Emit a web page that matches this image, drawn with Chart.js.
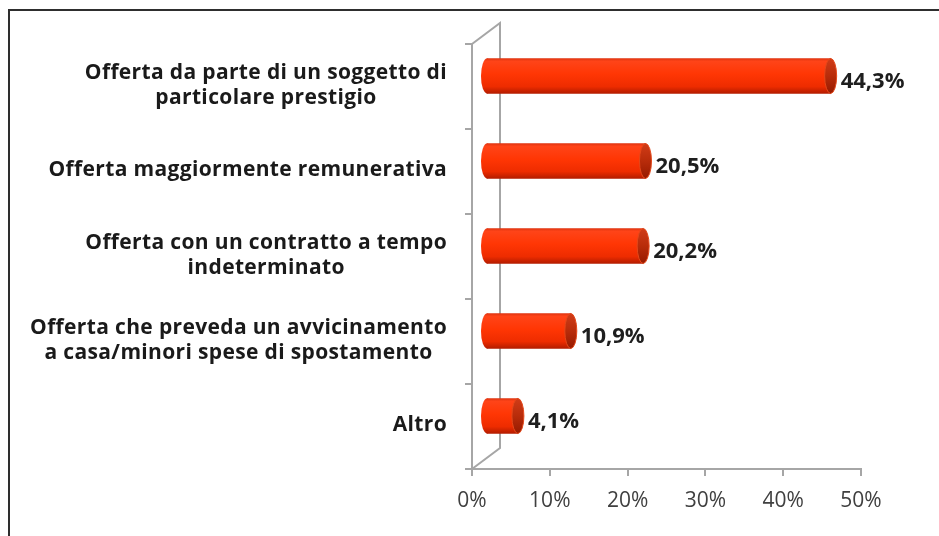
<!DOCTYPE html>
<html lang="it">
<head>
<meta charset="utf-8">
<title>Offerta</title>
<script src="https://cdn.jsdelivr.net/npm/chart.js@4/dist/chart.umd.min.js"></script>
<style>
  html, body { margin: 0; padding: 0; background: #fff; overflow: hidden; }
  #chart { display: block; }
</style>
</head>
<body>
<canvas id="chart" width="939" height="536"></canvas>
<script>
const categories = [
    ['Offerta da parte di un soggetto di', 'particolare prestigio'],
    ['Offerta maggiormente remunerativa'],
    ['Offerta con un contratto a tempo', 'indeterminato'],
    ['Offerta che preveda un avvicinamento', 'a casa/minori spese di spostamento'],
    ['Altro']
];
const percentages = [44.3, 20.5, 20.2, 10.9, 4.1];
const xTicks = [0, 10, 20, 30, 40, 50];

// 3D look: bars sit half way into the wall depth
const DEPTH_X = 28, DEPTH_Y = -21;
const BAR_H = 35, CAP_RX = 6;
const WALL = '#a6a6a6';

function barGradient(g, top, bottom) {
    const grad = g.createLinearGradient(0, top, 0, bottom);
    grad.addColorStop(0, '#e03410');
    grad.addColorStop(0.08, '#ff4418');
    grad.addColorStop(0.45, '#ff3604');
    grad.addColorStop(0.8, '#ee2c00');
    grad.addColorStop(1, '#b41c00');
    return grad;
}

const frame = {
    id: 'frame',
    beforeDraw(chart) {
        const g = chart.ctx;
        g.save();
        g.fillStyle = '#fff';
        g.fillRect(0, 0, chart.width, chart.height);
        g.strokeStyle = '#2e2e2e';
        g.lineWidth = 2;
        g.beginPath();
        g.moveTo(9, chart.height);
        g.lineTo(9, 10);
        g.lineTo(chart.width, 10);
        g.stroke();
        g.restore();
    },
    beforeDatasetsDraw(chart) {
        const g = chart.ctx;
        const a = chart.chartArea;
        g.save();
        g.strokeStyle = WALL;
        g.lineWidth = 2;
        g.beginPath();
        g.moveTo(a.left, a.top);
        g.lineTo(a.left + DEPTH_X, a.top + DEPTH_Y);
        g.lineTo(a.left + DEPTH_X, a.bottom + DEPTH_Y);
        g.lineTo(a.left, a.bottom);
        g.stroke();
        g.restore();
        g.save();
        g.translate(DEPTH_X / 2, DEPTH_Y / 2);
    },
    afterDatasetsDraw(chart) {
        const g = chart.ctx;
        const meta = chart.getDatasetMeta(0);
        meta.data.forEach((el, i) => {
            const ry = BAR_H / 2;
            g.fillStyle = barGradient(g, el.y - ry, el.y + ry);
            g.beginPath();
            g.ellipse(el.base, el.y, CAP_RX, ry, 0, 0, Math.PI * 2);
            g.fill();
            const cap = g.createLinearGradient(0, el.y - ry, 0, el.y + ry);
            cap.addColorStop(0, '#d03c18');
            cap.addColorStop(0.5, '#b82c0a');
            cap.addColorStop(1, '#961a00');
            g.fillStyle = cap;
            g.beginPath();
            g.ellipse(el.x, el.y, CAP_RX, ry, 0, 0, Math.PI * 2);
            g.fill();
            g.strokeStyle = '#e4481a';
            g.lineWidth = 1;
            g.stroke();

            g.fillStyle = '#1e1e1e';
            g.font = 'bold 22px "Open Sans"';
            g.textAlign = 'left';
            g.textBaseline = 'middle';
            const txt = percentages[i].toFixed(1).replace('.', ',') + '%';
            g.fillText(txt, el.x + CAP_RX + 4, el.y + 6);
        });
        g.restore();
    },
    afterDraw(chart) {
        const g = chart.ctx;
        const y = chart.scales.y;
        const right = chart.chartArea.left - 25;
        const lineH = 25;
        g.save();
        g.fillStyle = '#1a1a1a';
        g.font = 'bold 21px "Open Sans"';
        g.letterSpacing = '0.35px';
        g.textAlign = 'center';
        g.textBaseline = 'middle';
        categories.forEach((lines, i) => {
            const cy = y.getPixelForValue(i) - 1;
            const widest = Math.max(...lines.map(l => g.measureText(l).width));
            const cx = right - widest / 2;
            const y0 = cy - (lines.length - 1) * lineH / 2;
            lines.forEach((l, k) => g.fillText(l, cx, y0 + k * lineH));
        });
        g.restore();
    }
};

new Chart(document.getElementById('chart'), {
    type: 'bar',
    data: {
        labels: categories,
        datasets: [{
            data: percentages,
            barThickness: BAR_H,
            borderWidth: 0,
            backgroundColor: (c) => {
                const chart = c.chart;
                if (!chart.chartArea || !chart.scales.y) return '#ff3604';
                const cy = chart.scales.y.getPixelForValue(c.dataIndex);
                return barGradient(chart.ctx, cy - BAR_H / 2, cy + BAR_H / 2);
            }
        }]
    },
    options: {
        indexAxis: 'y',
        responsive: false,
        animation: false,
        layout: { padding: { top: 44, right: 78, bottom: 0, left: 0 } },
        plugins: { legend: { display: false }, tooltip: { enabled: false } },
        scales: {
            x: {
                min: 0,
                max: 50,
                afterBuildTicks: (s) => { s.ticks = xTicks.map(v => ({ value: v })); },
                afterFit: (s) => { s.height = 67; },
                grid: { drawOnChartArea: false, drawTicks: true, tickLength: 7, color: WALL, lineWidth: 2 },
                border: { display: true, color: WALL, width: 2 },
                ticks: {
                    padding: 12,
                    color: '#404040',
                    font: { family: 'Open Sans', size: 21 },
                    callback: (v) => v + '%'
                }
            },
            y: {
                afterFit: (s) => { s.width = 472; },
                grid: { drawOnChartArea: false, drawTicks: true, tickLength: 7, color: WALL, lineWidth: 2 },
                border: { display: true, color: WALL, width: 2 },
                ticks: { display: false }
            }
        }
    },
    plugins: [frame]
});
</script>
</body>
</html>
